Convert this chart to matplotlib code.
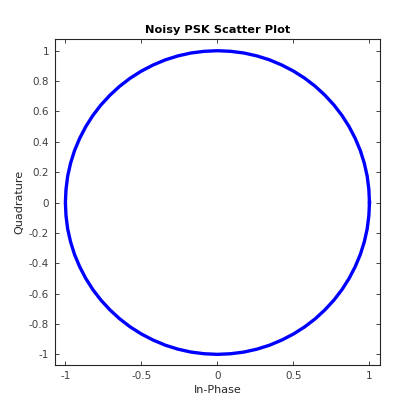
import numpy as np
import matplotlib
matplotlib.use("Agg")
import matplotlib.pyplot as plt

in_phase = [1.000, 0.996, 0.985, 0.966, 0.940, 0.906, 0.866, 0.819, 0.766, 0.707, 0.643, 0.574,
            0.500, 0.423, 0.342, 0.259, 0.174, 0.087,
            0.000, -0.087, -0.174, -0.259, -0.342, -0.423, -0.500, -0.574, -0.643, -0.707, -0.766,
            -0.819, -0.866, -0.906, -0.940, -0.966, -0.985, -0.996,
            -1.000, -0.996, -0.985, -0.966, -0.940, -0.906, -0.866, -0.819, -0.766, -0.707, -0.643,
            -0.574, -0.500, -0.423, -0.342, -0.259, -0.174, -0.087,
            0.000, 0.087, 0.174, 0.259, 0.342, 0.423, 0.500, 0.574, 0.643, 0.707, 0.766, 0.819,
            0.866, 0.906, 0.940, 0.966, 0.985, 0.996, 1.000]
quadrature = [0.000, 0.087, 0.174, 0.259, 0.342, 0.423, 0.500, 0.574, 0.643, 0.707, 0.766, 0.819,
              0.866, 0.906, 0.940, 0.966, 0.985, 0.996,
              1.000, 0.996, 0.985, 0.966, 0.940, 0.906, 0.866, 0.819, 0.766, 0.707, 0.643, 0.574,
              0.500, 0.423, 0.342, 0.259, 0.174, 0.087,
              0.000, -0.087, -0.174, -0.259, -0.342, -0.423, -0.500, -0.574, -0.643, -0.707, -0.766,
              -0.819, -0.866, -0.906, -0.940, -0.966, -0.985, -0.996,
              -1.000, -0.996, -0.985, -0.966, -0.940, -0.906, -0.866, -0.819, -0.766, -0.707, -0.643,
              -0.574, -0.500, -0.423, -0.342, -0.259, -0.174, -0.087, 0.000]

x_ticks = [-1, -0.5, 0, 0.5, 1]
x_labels = ["-1", "-0.5", "0", "0.5", "1"]
y_ticks = [-1, -0.8, -0.6, -0.4, -0.2, 0, 0.2, 0.4, 0.6, 0.8, 1]
y_labels = ["-1", "-0.8", "-0.6", "-0.4", "-0.2", "0", "0.2", "0.4", "0.6", "0.8", "1"]

plt.rcParams["font.family"] = ["DejaVu Sans"]
plt.rcParams["axes.unicode_minus"] = False

fig = plt.figure(figsize=(4.2, 4.2), dpi=100)
ax = fig.add_axes([0.130, 0.131, 0.775, 0.775])

ax.plot(in_phase, quadrature, color="#0000ff", linewidth=2.4, solid_joinstyle="round")

ax.set_xlim(-1.071, 1.070)
ax.set_ylim(-1.070, 1.074)
ax.set_xticks(x_ticks)
ax.set_xticklabels(x_labels)
ax.set_yticks(y_ticks)
ax.set_yticklabels(y_labels)
ax.tick_params(direction="in", length=3, width=0.6, top=True, right=True,
               labelsize=7.5, labelcolor="#404040", color="#262626", pad=4)
for spine in ax.spines.values():
    spine.set_linewidth(0.8)
    spine.set_color("#262626")

ax.set_xlabel("In-Phase", fontsize=8, color="#262626", labelpad=3)
ax.set_ylabel("Quadrature", fontsize=8, color="#262626", labelpad=3)
ax.set_title("Noisy PSK Scatter Plot", fontsize=8.2, fontweight="bold", pad=5)

fig.savefig("out.png", dpi=100)
